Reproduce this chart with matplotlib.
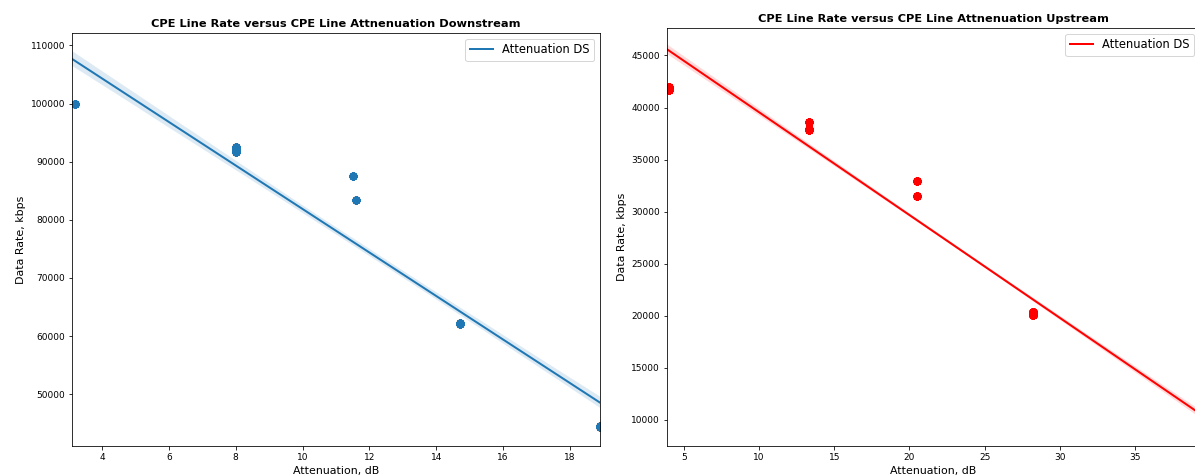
import numpy as np
import matplotlib
matplotlib.use("Agg")
from matplotlib import pyplot as plt
import seaborn as sns

# Downstream: attenuation (dB), line rate (kbps), how many samples sit on each spot
ds_att = [3.2, 8.0, 8.0, 8.0, 11.5, 11.6, 14.7, 14.7, 18.9, 18.9]
ds_rate = [100000, 92600, 92000, 91700, 87600, 83350, 62300, 62100, 44500, 44300]
ds_count = [50, 30, 30, 30, 25, 25, 25, 25, 30, 30]

# Upstream
us_att = [4.05, 4.05, 13.3, 13.3, 13.3, 20.5, 20.5, 28.2, 28.2]
us_rate = [41950, 41650, 38650, 37950, 37800, 32950, 31480, 20300, 20100]
us_count = [60, 45, 60, 60, 60, 90, 90, 185, 185]

TITLE_DS = "CPE Line Rate versus CPE Line Attnenuation Downstream"
TITLE_US = "CPE Line Rate versus CPE Line Attnenuation Upstream"

W, H, DPI = 1195, 475, 72
fig = plt.figure(figsize=(W / DPI, H / DPI), dpi=DPI)
ax1 = fig.add_axes([72 / W, 29 / H, 528 / W, 413 / H])
ax2 = fig.add_axes([667 / W, 29 / H, 533 / W, 418 / H])

x1 = np.repeat(ds_att, ds_count)
y1 = np.repeat(ds_rate, ds_count)
x2 = np.repeat(us_att, us_count)
y2 = np.repeat(us_rate, us_count)

ax1.set_xlim(3.1, 18.9)
ax1.set_ylim(41100, 112130)
ax2.set_xlim(3.89, 39.3)
ax2.set_ylim(7470, 47640)

sns.regplot(x=x1, y=y1, ax=ax1, color="#1f77b4", truncate=False, seed=1,
            scatter_kws={"s": 45}, line_kws={"label": "Attenuation DS", "lw": 2})
sns.regplot(x=x2, y=y2, ax=ax2, color="red", truncate=False, seed=1,
            scatter_kws={"s": 45}, line_kws={"label": "Attenuation DS", "lw": 2})

ax1.set_xlim(3.1, 18.9)
ax1.set_ylim(41100, 112130)
ax2.set_xlim(3.89, 39.3)
ax2.set_ylim(7470, 47640)

for ax, t in [(ax1, TITLE_DS), (ax2, TITLE_US)]:
    ax.set_title(t, fontweight="bold", fontsize=11.4)
    ax.set_xlabel("Attenuation, dB", fontsize=11)
    ax.set_ylabel("Data Rate, kbps", fontsize=11)
    ax.tick_params(labelsize=9)
    ax.legend(loc="upper right", fontsize=11.5)

fig.savefig("out.png", dpi=DPI)
